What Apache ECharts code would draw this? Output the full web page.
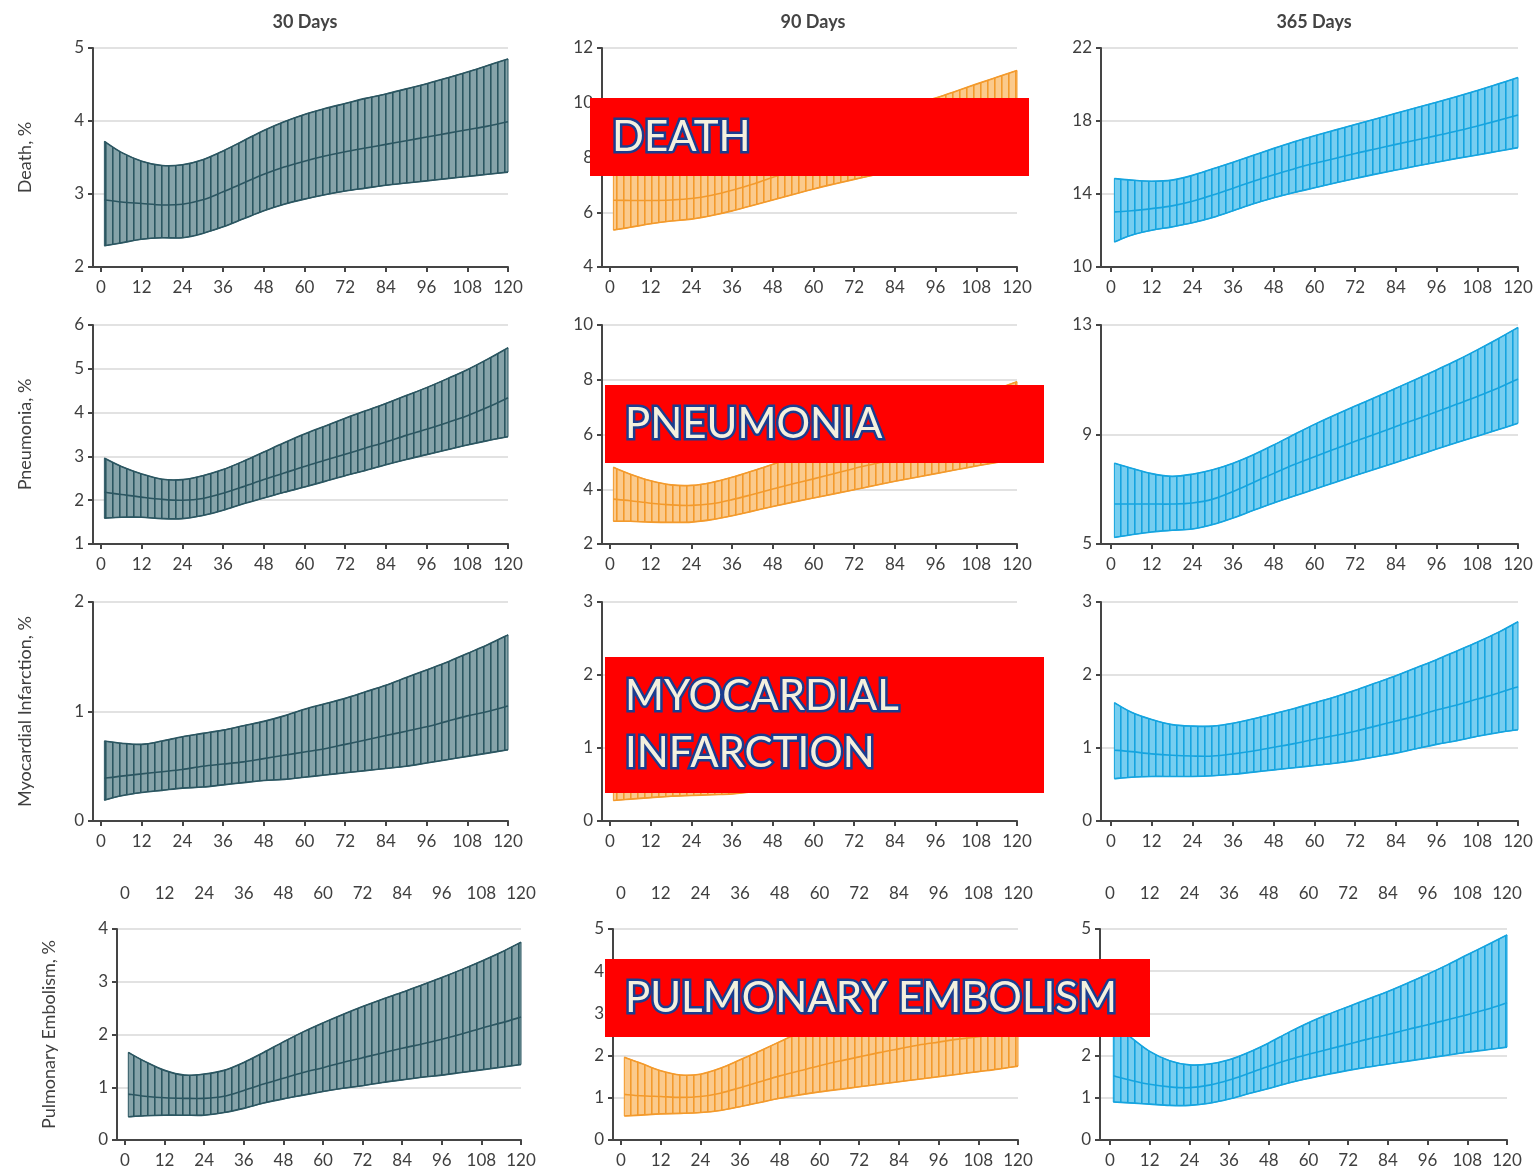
<!DOCTYPE html>
<html>
<head>
<meta charset="utf-8">
<title>Outcome rates by month</title>
<script src="https://cdn.jsdelivr.net/npm/echarts@6/dist/echarts.min.js"></script>
<style>
  html, body { margin: 0; padding: 0; background: #ffffff; }
  #chart { width: 1540px; height: 1170px; }
</style>
</head>
<body>
<div id="chart"></div>
<script>
// Months at which each curve and its confidence band were estimated
const months = [1, 6, 12, 18, 24, 30, 36, 42, 48, 54, 60, 66, 72, 78, 84, 90, 96, 102, 108, 114, 120];
const xTicks = [0, 12, 24, 36, 48, 60, 72, 84, 96, 108, 120];

const columnTitles = ['30 Days', '90 Days', '365 Days'];
const outcomeNames = ['Death, %', 'Pneumonia, %', 'Myocardial Infarction, %', 'Pulmonary Embolism, %'];
const bannerTexts = ['DEATH', 'PNEUMONIA', 'MYOCARDIAL\nINFARCTION', 'PULMONARY EMBOLISM'];

// y-axis tick labels per panel
const yTicksDeath30 = [2, 3, 4, 5];
const yTicksDeath90 = [4, 6, 8, 10, 12];
const yTicksDeath365 = [10, 14, 18, 22];
const yTicksPneu30 = [1, 2, 3, 4, 5, 6];
const yTicksPneu90 = [2, 4, 6, 8, 10];
const yTicksPneu365 = [5, 9, 13];
const yTicksMi30 = [0, 1, 2];
const yTicksMi90 = [0, 1, 2, 3];
const yTicksMi365 = [0, 1, 2, 3];
const yTicksPe30 = [0, 1, 2, 3, 4];
const yTicksPe90 = [0, 1, 2, 3, 4, 5];
const yTicksPe365 = [0, 1, 2, 3, 4, 5];

// Death
const deathLo30  = [2.29, 2.33, 2.38, 2.40, 2.40, 2.46, 2.55, 2.66, 2.77, 2.86, 2.93, 2.99, 3.04, 3.08, 3.12, 3.15, 3.18, 3.21, 3.24, 3.27, 3.30];
const deathMid30 = [2.92, 2.89, 2.87, 2.85, 2.86, 2.92, 3.03, 3.15, 3.27, 3.37, 3.45, 3.52, 3.58, 3.63, 3.68, 3.73, 3.78, 3.83, 3.88, 3.93, 3.99];
const deathHi30  = [3.72, 3.57, 3.45, 3.39, 3.40, 3.47, 3.59, 3.73, 3.87, 3.99, 4.09, 4.17, 4.24, 4.31, 4.37, 4.44, 4.51, 4.59, 4.67, 4.76, 4.85];

const deathLo90  = [5.35, 5.45, 5.58, 5.68, 5.75, 5.88, 6.05, 6.25, 6.45, 6.65, 6.85, 7.03, 7.20, 7.36, 7.50, 7.64, 7.77, 7.90, 8.02, 8.14, 8.26];
const deathMid90 = [6.44, 6.43, 6.43, 6.45, 6.50, 6.62, 6.80, 7.02, 7.28, 7.50, 7.70, 7.90, 8.10, 8.30, 8.48, 8.66, 8.84, 9.02, 9.20, 9.38, 9.56];
const deathHi90  = [7.70, 7.55, 7.45, 7.40, 7.45, 7.60, 7.80, 8.05, 8.30, 8.55, 8.80, 9.05, 9.30, 9.50, 9.70, 9.95, 10.17, 10.42, 10.68, 10.93, 11.18];

const deathLo365  = [11.37, 11.74, 12.01, 12.20, 12.42, 12.71, 13.08, 13.46, 13.79, 14.08, 14.34, 14.60, 14.85, 15.09, 15.31, 15.53, 15.74, 15.95, 16.14, 16.34, 16.54];
const deathMid365 = [13.02, 13.08, 13.20, 13.35, 13.60, 13.94, 14.32, 14.70, 15.06, 15.38, 15.68, 15.95, 16.22, 16.47, 16.72, 16.96, 17.20, 17.45, 17.73, 18.02, 18.33];
const deathHi365  = [14.85, 14.76, 14.70, 14.76, 15.02, 15.38, 15.74, 16.12, 16.50, 16.86, 17.19, 17.50, 17.81, 18.11, 18.42, 18.73, 19.03, 19.34, 19.67, 20.02, 20.38];

// Pneumonia
const pneuLo30  = [1.59, 1.61, 1.61, 1.58, 1.58, 1.65, 1.77, 1.92, 2.05, 2.18, 2.30, 2.43, 2.56, 2.68, 2.81, 2.93, 3.04, 3.15, 3.26, 3.36, 3.45];
const pneuMid30 = [2.18, 2.13, 2.07, 2.02, 2.00, 2.04, 2.16, 2.31, 2.47, 2.62, 2.77, 2.91, 3.05, 3.19, 3.33, 3.48, 3.62, 3.77, 3.93, 4.12, 4.34];
const pneuHi30  = [2.96, 2.77, 2.60, 2.48, 2.47, 2.56, 2.70, 2.89, 3.10, 3.31, 3.51, 3.69, 3.87, 4.04, 4.21, 4.39, 4.57, 4.77, 4.98, 5.22, 5.48];

const pneuLo90  = [2.83, 2.83, 2.80, 2.79, 2.80, 2.89, 3.03, 3.20, 3.37, 3.53, 3.68, 3.83, 3.98, 4.14, 4.29, 4.43, 4.57, 4.71, 4.85, 4.98, 5.10];
const pneuMid90 = [3.64, 3.58, 3.49, 3.43, 3.41, 3.47, 3.62, 3.81, 4.01, 4.20, 4.38, 4.57, 4.76, 4.93, 5.10, 5.28, 5.47, 5.66, 5.86, 6.07, 6.28];
const pneuHi90  = [4.80, 4.55, 4.31, 4.16, 4.14, 4.25, 4.44, 4.67, 4.91, 5.15, 5.40, 5.65, 5.90, 6.15, 6.40, 6.65, 6.90, 7.15, 7.40, 7.66, 7.93];

const pneuLo365  = [5.24, 5.34, 5.44, 5.50, 5.55, 5.71, 5.95, 6.23, 6.50, 6.75, 7.00, 7.25, 7.50, 7.74, 7.98, 8.22, 8.47, 8.71, 8.94, 9.17, 9.41];
const pneuMid365 = [6.46, 6.46, 6.46, 6.46, 6.50, 6.64, 6.92, 7.25, 7.58, 7.90, 8.19, 8.47, 8.75, 9.02, 9.29, 9.56, 9.83, 10.11, 10.39, 10.69, 11.03];
const pneuHi365  = [7.95, 7.77, 7.57, 7.47, 7.55, 7.71, 7.95, 8.26, 8.62, 9.00, 9.37, 9.71, 10.04, 10.36, 10.69, 11.02, 11.36, 11.71, 12.09, 12.49, 12.91];

// Myocardial infarction
const miLo30  = [0.19, 0.23, 0.26, 0.28, 0.30, 0.31, 0.33, 0.35, 0.37, 0.38, 0.40, 0.42, 0.44, 0.46, 0.48, 0.50, 0.53, 0.56, 0.59, 0.62, 0.65];
const miMid30 = [0.39, 0.41, 0.43, 0.45, 0.47, 0.50, 0.52, 0.54, 0.57, 0.60, 0.63, 0.66, 0.70, 0.74, 0.78, 0.82, 0.86, 0.91, 0.96, 1.00, 1.05];
const miHi30  = [0.73, 0.71, 0.70, 0.73, 0.77, 0.80, 0.83, 0.87, 0.91, 0.96, 1.02, 1.07, 1.12, 1.18, 1.24, 1.31, 1.38, 1.45, 1.53, 1.61, 1.70];

const miLo90  = [0.28, 0.30, 0.32, 0.34, 0.35, 0.36, 0.37, 0.40, 0.42, 0.45, 0.48, 0.51, 0.55, 0.59, 0.63, 0.67, 0.72, 0.77, 0.82, 0.87, 0.93];
const miMid90 = [0.55, 0.57, 0.60, 0.63, 0.66, 0.70, 0.73, 0.77, 0.80, 0.84, 0.88, 0.93, 0.98, 1.03, 1.09, 1.15, 1.21, 1.28, 1.35, 1.42, 1.50];
const miHi90  = [1.05, 1.00, 0.98, 1.00, 1.05, 1.10, 1.15, 1.20, 1.25, 1.31, 1.37, 1.44, 1.51, 1.58, 1.66, 1.74, 1.83, 1.92, 2.01, 2.10, 2.20];

const miLo365  = [0.58, 0.60, 0.61, 0.61, 0.61, 0.62, 0.64, 0.67, 0.70, 0.73, 0.76, 0.79, 0.83, 0.88, 0.93, 0.99, 1.05, 1.10, 1.16, 1.21, 1.25];
const miMid365 = [0.97, 0.95, 0.92, 0.90, 0.89, 0.89, 0.92, 0.96, 1.01, 1.06, 1.12, 1.17, 1.23, 1.30, 1.37, 1.44, 1.52, 1.59, 1.67, 1.75, 1.84];
const miHi365  = [1.62, 1.49, 1.39, 1.32, 1.30, 1.30, 1.34, 1.40, 1.47, 1.54, 1.62, 1.70, 1.79, 1.89, 1.99, 2.10, 2.21, 2.33, 2.45, 2.58, 2.73];

// Pulmonary embolism
const peLo30  = [0.44, 0.46, 0.47, 0.47, 0.47, 0.52, 0.60, 0.70, 0.78, 0.85, 0.92, 0.98, 1.03, 1.09, 1.14, 1.19, 1.23, 1.28, 1.33, 1.38, 1.43];
const peMid30 = [0.87, 0.83, 0.80, 0.79, 0.79, 0.83, 0.94, 1.06, 1.17, 1.28, 1.37, 1.47, 1.56, 1.65, 1.74, 1.82, 1.91, 2.01, 2.12, 2.22, 2.33];
const peHi30  = [1.66, 1.49, 1.32, 1.23, 1.25, 1.32, 1.47, 1.66, 1.86, 2.05, 2.22, 2.38, 2.53, 2.67, 2.80, 2.94, 3.08, 3.23, 3.39, 3.56, 3.75];

const peLo90  = [0.57, 0.59, 0.62, 0.63, 0.65, 0.70, 0.79, 0.89, 0.99, 1.07, 1.14, 1.20, 1.26, 1.32, 1.38, 1.44, 1.50, 1.56, 1.62, 1.68, 1.75];
const peMid90 = [1.08, 1.05, 1.03, 1.01, 1.03, 1.11, 1.24, 1.38, 1.52, 1.64, 1.76, 1.87, 1.97, 2.07, 2.16, 2.25, 2.32, 2.39, 2.45, 2.50, 2.55];
const peHi90  = [1.96, 1.82, 1.64, 1.54, 1.56, 1.70, 1.90, 2.11, 2.33, 2.55, 2.75, 2.92, 3.08, 3.22, 3.35, 3.48, 3.60, 3.73, 3.86, 4.00, 4.15];

const peLo365  = [0.90, 0.88, 0.85, 0.82, 0.82, 0.87, 0.97, 1.10, 1.22, 1.35, 1.46, 1.56, 1.65, 1.73, 1.80, 1.87, 1.94, 2.01, 2.08, 2.14, 2.20];
const peMid365 = [1.52, 1.42, 1.32, 1.26, 1.24, 1.30, 1.42, 1.58, 1.75, 1.90, 2.03, 2.15, 2.27, 2.39, 2.50, 2.62, 2.73, 2.85, 2.97, 3.10, 3.25];
const peHi365  = [2.75, 2.45, 2.10, 1.88, 1.78, 1.80, 1.90, 2.08, 2.30, 2.55, 2.78, 2.98, 3.16, 3.34, 3.52, 3.72, 3.93, 4.15, 4.39, 4.62, 4.86];

// ---- panel wiring ----
const panels = [
  { row: 0, col: 0, lo: deathLo30, mid: deathMid30, hi: deathHi30, yTicks: yTicksDeath30 },
  { row: 0, col: 1, lo: deathLo90, mid: deathMid90, hi: deathHi90, yTicks: yTicksDeath90 },
  { row: 0, col: 2, lo: deathLo365, mid: deathMid365, hi: deathHi365, yTicks: yTicksDeath365 },
  { row: 1, col: 0, lo: pneuLo30, mid: pneuMid30, hi: pneuHi30, yTicks: yTicksPneu30 },
  { row: 1, col: 1, lo: pneuLo90, mid: pneuMid90, hi: pneuHi90, yTicks: yTicksPneu90 },
  { row: 1, col: 2, lo: pneuLo365, mid: pneuMid365, hi: pneuHi365, yTicks: yTicksPneu365 },
  { row: 2, col: 0, lo: miLo30, mid: miMid30, hi: miHi30, yTicks: yTicksMi30 },
  { row: 2, col: 1, lo: miLo90, mid: miMid90, hi: miHi90, yTicks: yTicksMi90 },
  { row: 2, col: 2, lo: miLo365, mid: miMid365, hi: miHi365, yTicks: yTicksMi365 },
  { row: 3, col: 0, lo: peLo30, mid: peMid30, hi: peHi30, yTicks: yTicksPe30 },
  { row: 3, col: 1, lo: peLo90, mid: peMid90, hi: peHi90, yTicks: yTicksPe90 },
  { row: 3, col: 2, lo: peLo365, mid: peMid365, hi: peHi365, yTicks: yTicksPe365 }
];

// Page geometry (pixels): y-axis line x, x of month 0, x of month 120
const colFrames = [
  [[93, 101, 508], [602, 610, 1017], [1101, 1111, 1518]],
  [[93, 101, 508], [602, 610, 1017], [1101, 1111, 1518]],
  [[93, 101, 508], [602, 610, 1017], [1101, 1111, 1518]],
  [[117, 125, 521], [613, 621, 1018], [1100, 1110, 1507]]
];
// top / bottom pixel of each row's plotting area
const rowFrames = [[48, 267], [325, 544], [602, 821], [929, 1140]];

// Colour per column: stripe/line colour and the lighter band fill
const palette = [
  { line: '#2b5661', fill: '#86a3a9' },
  { line: '#f39a2c', fill: '#fbca8c' },
  { line: '#15a4df', fill: '#76cef0' }
];

function stripePattern(fill, line) {
  const c = document.createElement('canvas');
  c.width = 7; c.height = 8;
  const g = c.getContext('2d');
  g.fillStyle = fill; g.fillRect(0, 0, 7, 8);
  g.fillStyle = line; g.fillRect(0, 0, 1, 8);
  g.globalAlpha = 0.6; g.fillRect(1, 0, 1, 8);
  return c;
}
const patterns = palette.map(p => stripePattern(p.fill, p.line));

// Smooth cubic segments through pixel points (Catmull-Rom style)
function curveSegments(pts) {
  let d = '';
  for (let i = 0; i < pts.length - 1; i++) {
    const p0 = pts[i - 1] || pts[i], p1 = pts[i], p2 = pts[i + 1], p3 = pts[i + 2] || p2;
    const c1x = p1[0] + (p2[0] - p0[0]) / 6, c1y = p1[1] + (p2[1] - p0[1]) / 6;
    const c2x = p2[0] - (p3[0] - p1[0]) / 6, c2y = p2[1] - (p3[1] - p1[1]) / 6;
    d += ' C' + c1x.toFixed(2) + ',' + c1y.toFixed(2) + ' ' + c2x.toFixed(2) + ',' + c2y.toFixed(2) +
         ' ' + p2[0].toFixed(2) + ',' + p2[1].toFixed(2);
  }
  return d;
}
const moveTo = p => 'M' + p[0].toFixed(2) + ',' + p[1].toFixed(2);
const lineTo = p => ' L' + p[0].toFixed(2) + ',' + p[1].toFixed(2);

function bandRenderer(colIndex) {
  const col = palette[colIndex];
  return function (params, api) {
    if (params.dataIndexInside !== 0) return null;
    const n = params.dataInsideLength;
    const up = [], lo = [], md = [];
    for (let i = 0; i < n; i++) {
      const m = api.value(0, i);
      lo.push(api.coord([m, api.value(1, i)]));
      up.push(api.coord([m, api.value(2, i)]));
      md.push(api.coord([m, api.value(3, i)]));
    }
    const loRev = lo.slice().reverse();
    const fillPath = moveTo(up[0]) + curveSegments(up) + lineTo(loRev[0]) + curveSegments(loRev) + ' Z';
    const edge = { fill: null, stroke: col.line, lineWidth: 1.6 };
    return {
      type: 'group',
      children: [
        { type: 'path', shape: { pathData: fillPath },
          style: { fill: { image: patterns[colIndex], repeat: 'repeat' }, stroke: col.line, lineWidth: 1 } },
        { type: 'path', shape: { pathData: moveTo(up[0]) + curveSegments(up) }, style: edge },
        { type: 'path', shape: { pathData: moveTo(lo[0]) + curveSegments(lo) }, style: edge },
        { type: 'path', shape: { pathData: moveTo(md[0]) + curveSegments(md) }, style: edge }
      ]
    };
  };
}

const FONT = 'Lato, "Open Sans", sans-serif';
const TEXT_COLOR = '#3f3f3f';
const AXIS_COLOR = '#454545';

const grids = [], xAxes = [], yAxes = [], series = [];

panels.forEach((p, k) => {
  const [axisX, x0, x120] = colFrames[p.row][p.col];
  const [top, bottom] = rowFrames[p.row];
  const pxPerMonth = (x120 - x0) / 120;
  grids.push({ left: axisX, top: top, width: x120 - axisX, height: bottom - top, outerBoundsMode: 'none', containLabel: false });

  const xBase = {
    type: 'value', gridIndex: k,
    min: -(x0 - axisX) / pxPerMonth, max: 120,
    splitLine: { show: false }
  };
  xAxes.push(Object.assign({}, xBase, {
    position: 'bottom',
    axisLine: { show: true, onZero: false, lineStyle: { color: AXIS_COLOR, width: 2 } },
    axisTick: { show: true, length: 5, customValues: xTicks, lineStyle: { color: AXIS_COLOR, width: 2 } },
    axisLabel: { customValues: xTicks, margin: 12, color: TEXT_COLOR, fontFamily: FONT, fontSize: 17 }
  }));
  const xIdx = xAxes.length - 1;
  if (p.row === 3) {
    // the bottom row repeats the month scale above each panel
    xAxes.push(Object.assign({}, xBase, {
      position: 'top',
      axisLine: { show: false },
      axisTick: { show: false, customValues: xTicks },
      axisLabel: { customValues: xTicks, margin: 27, color: TEXT_COLOR, fontFamily: FONT, fontSize: 17 }
    }));
  }

  const yMin = p.yTicks[0], yMax = p.yTicks[p.yTicks.length - 1];
  const yAxis = {
    type: 'value', gridIndex: k, min: yMin, max: yMax,
    axisLine: { show: true, onZero: false, lineStyle: { color: AXIS_COLOR, width: 2 } },
    axisTick: { show: true, length: 5, customValues: p.yTicks, lineStyle: { color: AXIS_COLOR, width: 2 } },
    axisLabel: { customValues: p.yTicks, margin: 9, color: TEXT_COLOR, fontFamily: FONT, fontSize: 17 },
    splitLine: { show: true, lineStyle: { color: '#e2e2e2', width: 2 } }
  };
  if (p.col === 0) {
    Object.assign(yAxis, {
      name: outcomeNames[p.row], nameLocation: 'middle', nameRotate: 90, nameGap: 59,
      nameTextStyle: { color: TEXT_COLOR, fontFamily: FONT, fontSize: 18 }
    });
  }
  yAxes.push(yAxis);
  const yIdx = yAxes.length - 1;

  series.push({
    type: 'custom', name: 'band' + k, xAxisIndex: xIdx, yAxisIndex: yIdx,
    silent: true, animation: false, clip: false,
    data: months.map((m, i) => [m, p.lo[i], p.hi[i], p.mid[i]]),
    encode: { x: 0, y: [1, 2, 3] },
    renderItem: bandRenderer(p.col)
  });
});

// Column headings
const graphics = [];
[305, 813, 1314].forEach((cx, i) => {
  graphics.push({
    type: 'text', x: cx, y: 22, z: 50,
    style: { text: columnTitles[i], x: 0, y: 0, textAlign: 'center', textVerticalAlign: 'middle',
             font: 'bold 18px ' + FONT, fill: '#444444' }
  });
});

// Red outcome banners laid over the middle column
const bannerBoxes = [
  { x: 590, y: 98, w: 439, h: 78, tx: 612 },
  { x: 605, y: 385, w: 439, h: 78, tx: 625 },
  { x: 605, y: 657, w: 439, h: 136, tx: 625 },
  { x: 605, y: 959, w: 545, h: 78, tx: 625 }
];
bannerBoxes.forEach((b, i) => {
  const lines = bannerTexts[i].split('\n');
  const lineH = 57;
  const startY = b.y + b.h / 2 - (lines.length - 1) * lineH / 2;
  graphics.push({ type: 'rect', z: 100, shape: { x: b.x, y: b.y, width: b.w, height: b.h }, style: { fill: '#ff0000' } });
  lines.forEach((t, j) => {
    const base = { text: t, x: b.tx, y: startY + j * lineH, textAlign: 'left', textVerticalAlign: 'middle',
                   font: '42px ' + FONT };
    graphics.push({ type: 'text', z: 101, style: Object.assign({}, base, {
      fill: '#1b3d8f', stroke: '#1b3d8f', lineWidth: 5, lineJoin: 'round',
      shadowBlur: 4, shadowColor: 'rgba(0,0,0,0.55)', shadowOffsetX: 2, shadowOffsetY: 2 }) });
    graphics.push({ type: 'text', z: 102, style: Object.assign({}, base, { fill: '#f4f0de' }) });
  });
});

const chart = echarts.init(document.getElementById('chart'), null, { renderer: 'canvas' });
chart.setOption({
  backgroundColor: '#ffffff',
  animation: false,
  tooltip: { show: false },
  grid: grids,
  xAxis: xAxes,
  yAxis: yAxes,
  series: series,
  graphic: graphics
});
</script>
</body>
</html>
